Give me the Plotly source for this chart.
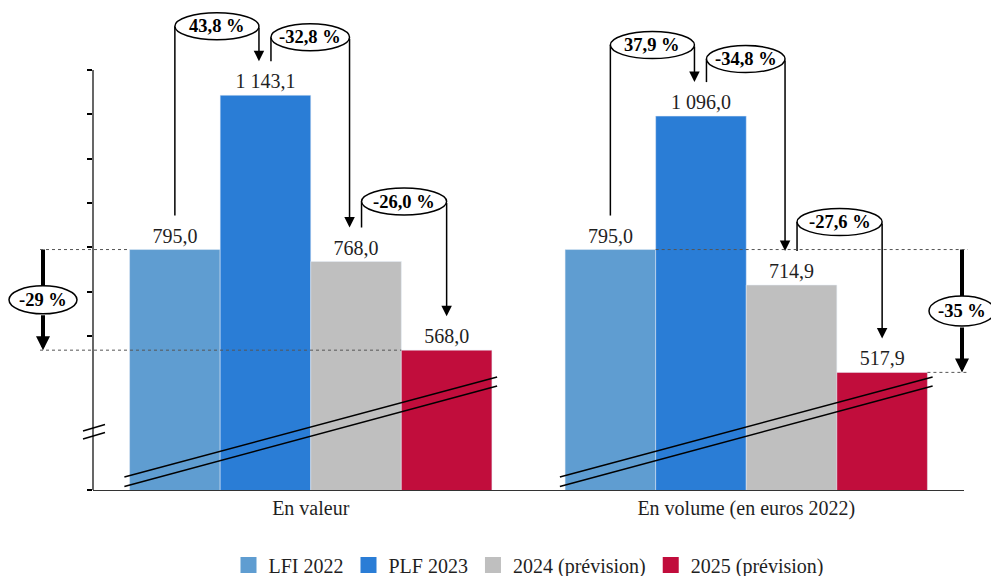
import plotly.graph_objects as go

# ---- data -------------------------------------------------------------
categories = ["En valeur", "En volume (en euros 2022)"]
series_names = ["LFI 2022", "PLF 2023", "2024 (prévision)", "2025 (prévision)"]
lfi_2022 = [795.0, 795.0]
plf_2023 = [1143.1, 1096.0]
prev_2024 = [768.0, 714.9]
prev_2025 = [568.0, 517.9]
y_tick_values = [600, 700, 800, 900, 1000, 1100, 1200]

series = [lfi_2022, plf_2023, prev_2024, prev_2025]
colors = ["#5f9dd1", "#2a7dd6", "#bfbfbf", "#c10d3c"]

# ---- layout constants -------------------------------------------------
W, H = 991, 576
M_L, M_R, M_T, M_B = 93, 27, 5, 86
Y_MIN, Y_MAX = 252.6, 1346.6
X_MIN, X_MAX = -0.5, 1.5
PLOT_W = W - M_L - M_R
PLOT_H = H - M_T - M_B
BARGAP = 0.168
BW = (1 - BARGAP) / 4

FONT = "Liberation Serif, Times New Roman, serif"
TXT = "#1f1f1f"


def dy(px):
    """vertical pixel distance -> y units"""
    return px * (Y_MAX - Y_MIN) / PLOT_H


def dx(px):
    """horizontal pixel distance -> category units"""
    return px * (X_MAX - X_MIN) / PLOT_W


def y_at(py):
    """pixel row -> y value"""
    return Y_MAX - (py - M_T) * (Y_MAX - Y_MIN) / PLOT_H


def paper_x(xd):
    return (xd - X_MIN) / (X_MAX - X_MIN)


def paper_px(px):
    return (px - M_L) / PLOT_W


def bar_center(g, j):
    return g + (j - 1.5) * BW


def fmt_value(v):
    return f"{v:,.1f}".replace(",", " ").replace(".", ",")


def fmt_pct(a, b, nd=1):
    return f"{(b / a - 1) * 100:.{nd}f}".replace(".", ",") + " %"


fig = go.Figure()

for name, vals, col in zip(series_names, series, colors):
    fig.add_trace(go.Bar(
        x=categories, y=vals, name=name, marker_color=col,
        text=[fmt_value(v) for v in vals], textposition="outside",
        textfont=dict(family=FONT, size=20, color=TXT),
        cliponaxis=False, showlegend=False,
    ))
    # square swatch for the legend
    fig.add_trace(go.Scatter(
        x=[None], y=[None], mode="markers", name=name,
        marker=dict(symbol="square", size=16, color=col),
    ))

shapes = []
annotations = []
BLACK = dict(color="black", width=1.5)

# ---- step-by-step change callouts ------------------------------------
LABEL_GAP = 34                        # px between bar top and connector end
CALLOUT_RISE = [[69, 58, 60], [71, 57, 63]]
ELL_H = 27

for g in range(2):
    vals = [s[g] for s in series]
    for j in range(3):
        xl = bar_center(g, j) + (0 if j == 0 else dx(5.5))
        xr = bar_center(g, j + 1) - (dx(6.5) if j + 1 < 3 else 0)
        level = max(vals[j], vals[j + 1]) + dy(CALLOUT_RISE[g][j])
        top_from = vals[j] + dy(LABEL_GAP)
        top_to = vals[j + 1] + dy(LABEL_GAP)
        shapes.append(dict(type="line", xref="x", yref="y", x0=xl, x1=xl,
                           y0=top_from, y1=level, layer="above", line=BLACK))
        annotations.append(dict(xref="x", yref="y", x=xr, y=top_to,
                                axref="x", ayref="y", ax=xr, ay=level,
                                text="", showarrow=True, arrowhead=2,
                                arrowsize=1.4, arrowwidth=1.5,
                                arrowcolor="black"))
        w = (xr - xl) / dx(1)
        cx = (xl + xr) / 2
        shapes.append(dict(type="circle", xref="x", yref="y",
                           xsizemode="pixel", ysizemode="pixel",
                           xanchor=cx, yanchor=level,
                           x0=-w / 2, x1=w / 2, y0=-ELL_H / 2, y1=ELL_H / 2,
                           fillcolor="white", layer="above", line=BLACK))
        annotations.append(dict(xref="x", yref="y", x=cx, y=level,
                                xanchor="center", yanchor="middle",
                                text="<b>" + fmt_pct(vals[j], vals[j + 1]) + "</b>",
                                showarrow=False,
                                font=dict(family=FONT, size=18.5, color="black")))

# ---- overall change arrows -------------------------------------------
DASH = dict(color="#555555", width=1, dash="3px,3px")
side = [
    dict(px=43, w=68, h=28),
    dict(px=962, w=66, h=30),
]
for g in range(2):
    start, end = lfi_2022[g], prev_2025[g]
    xp = paper_px(side[g]["px"])
    mid = (start + end) / 2
    # shaft above the label, hidden under the ellipse at its lower end
    shapes.append(dict(type="line", xref="paper", yref="y", x0=xp, x1=xp,
                       y0=start, y1=mid, layer="above",
                       line=dict(color="black", width=4)))
    # lower shaft with its head, starting at the ellipse's bottom edge
    annotations.append(dict(xref="paper", yref="y", x=xp, y=end,
                            axref="pixel", ayref="y", ax=0,
                            ay=mid - dy(side[g]["h"] / 2),
                            text="", showarrow=True, arrowhead=2,
                            arrowsize=0.7, arrowwidth=4, arrowcolor="black"))
    shapes.append(dict(type="circle", xref="paper", yref="y",
                       xsizemode="pixel", ysizemode="pixel",
                       xanchor=xp, yanchor=mid,
                       x0=-side[g]["w"] / 2, x1=side[g]["w"] / 2,
                       y0=-side[g]["h"] / 2, y1=side[g]["h"] / 2,
                       fillcolor="white", layer="above", line=BLACK))
    annotations.append(dict(xref="paper", yref="y", x=xp, y=mid,
                            xanchor="center", yanchor="middle",
                            text="<b>" + fmt_pct(start, end, 0) + "</b>",
                            showarrow=False,
                            font=dict(family=FONT, size=18.5, color="black")))

# dashed reference levels
left_end, right_end = paper_px(40), paper_px(968)
shapes += [
    dict(type="line", xref="paper", yref="y", layer="above", line=DASH,
         x0=left_end, x1=paper_x(bar_center(0, 0) - BW / 2),
         y0=lfi_2022[0], y1=lfi_2022[0]),
    dict(type="line", xref="paper", yref="y", layer="above", line=DASH,
         x0=left_end, x1=paper_x(bar_center(0, 3) - BW / 2),
         y0=prev_2025[0], y1=prev_2025[0]),
    dict(type="line", xref="paper", yref="y", layer="above", line=DASH,
         x0=paper_x(bar_center(1, 0) + BW / 2), x1=right_end,
         y0=lfi_2022[1], y1=lfi_2022[1]),
    dict(type="line", xref="paper", yref="y", layer="above", line=DASH,
         x0=paper_x(bar_center(1, 3) + BW / 2), x1=right_end,
         y0=prev_2025[1], y1=prev_2025[1]),
]

# ---- axis line and break marks ---------------------------------------
shapes.append(dict(type="line", xref="paper", yref="y", x0=0, x1=0,
                   y0=Y_MIN, y1=y_tick_values[-1], layer="above",
                   line=dict(color="black", width=1.2)))
for off in (0, 8):
    shapes.append(dict(type="line", xref="paper", yref="y", layer="above",
                       x0=paper_px(83), x1=paper_px(105),
                       y0=y_at(431 + off), y1=y_at(424.5 + off), line=BLACK))
for g in range(2):
    for lo, hi in ((477, 377), (486.5, 386)):
        shapes.append(dict(type="line", xref="x", yref="y", layer="above",
                           x0=g - 0.428, x1=g + 0.428,
                           y0=y_at(lo), y1=y_at(hi), line=BLACK))

fig.update_layout(
    width=W, height=H,
    margin=dict(l=M_L, r=M_R, t=M_T, b=M_B, autoexpand=False),
    paper_bgcolor="white", plot_bgcolor="white",
    barmode="group", bargap=BARGAP, bargroupgap=0,
    font=dict(family=FONT, size=20, color=TXT),
    shapes=shapes, annotations=annotations,
    legend=dict(orientation="h", x=0.5, xanchor="center",
                y=-(565 - (H - M_B)) / PLOT_H, yanchor="middle",
                font=dict(family=FONT, size=20, color=TXT),
                itemwidth=30, traceorder="normal"),
    xaxis=dict(type="category", range=[X_MIN, X_MAX], showgrid=False,
               showline=True, linecolor="#333333", linewidth=1.2, ticks="",
               tickfont=dict(family=FONT, size=20, color=TXT)),
    yaxis=dict(range=[Y_MIN, Y_MAX], showgrid=False, zeroline=False,
               showline=False, showticklabels=False, ticks="outside",
               tickvals=[Y_MIN] + y_tick_values, ticklen=5, tickwidth=1.5,
               tickcolor="black"),
)

fig.write_html("out.html")
